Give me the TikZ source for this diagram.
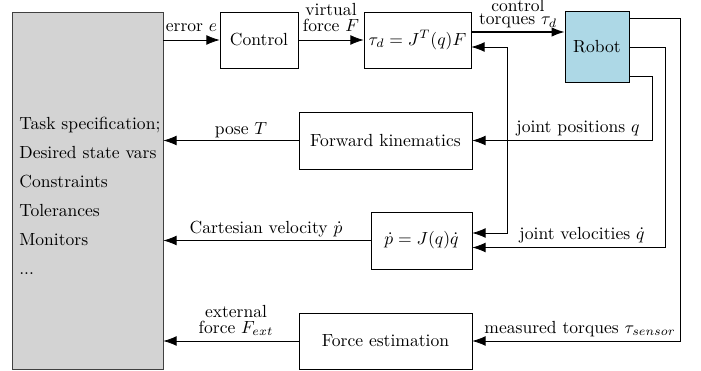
\documentclass[tikz,border=0pt]{standalone}
\usetikzlibrary{arrows.meta,calc}
\definecolor{taskgray}{RGB}{211,211,211}
\definecolor{robotblue}{RGB}{173,216,230}
\begin{document}
\begin{tikzpicture}[x=0.57pt,y=-0.57pt,
  box/.style={draw,rectangle,inner sep=0pt},
  arr/.style={-{Latex[length=7.5pt,width=5.5pt]}},
  lbl/.style={inner sep=0pt,anchor=base},
  tasktext/.style={inner sep=0pt,anchor=base west}]
\useasboundingbox (0,0) rectangle (701,371);
% boxes
\node[box,fill=taskgray,draw=black!75,minimum width=151*0.57pt,minimum height=357*0.57pt] (task) at (87.5,190.5) {};
\node[box,minimum width=78*0.57pt,minimum height=56*0.57pt] (control) at (259,40) {Control};
\node[box,minimum width=107*0.57pt,minimum height=56*0.57pt] (tau) at (417.5,40) {$\tau_d = J^T(q)F$};
\node[box,fill=robotblue,minimum width=64*0.57pt,minimum height=71*0.57pt] (robot) at (597,47) {Robot};
\node[box,minimum width=173*0.57pt,minimum height=57*0.57pt] (fk) at (385.5,140.5) {Forward kinematics};
\node[box,minimum width=101*0.57pt,minimum height=57*0.57pt] (pdot) at (421.5,240.5) {$\dot p = J(q)\dot q$};
\node[box,minimum width=173*0.57pt,minimum height=56*0.57pt] (force) at (385.5,341) {Force estimation};
% task text
\node[tasktext] (t1) at (19,130) {Task specification;};
\node[tasktext] (t2) at (19,159) {Desired state vars};
\node[tasktext] (t3) at (19,188) {Constraints};
\node[tasktext] (t4) at (19,217) {Tolerances};
\node[tasktext] (t5) at (19,246) {Monitors};
\node[tasktext] (t6) at (19,275) {...};
% bend coordinates
\coordinate (mx) at (680,18);
\coordinate (vx) at (665,47);
\coordinate (qx) at (652,76);
\coordinate (jx) at (507,140.5);
\coordinate (ty) at (0,47);
\coordinate (tq) at (0,32);
\coordinate (pa) at (0,233);
\coordinate (pb) at (0,247.5);
% forward connectors
\draw[arr] (task.east |- control.west) -- (control.west);
\draw[arr] (control.east) -- (tau.west);
\draw[arr,thick] (tau.east |- tq) -- (robot.west |- tq);
% feedback from robot
\draw[arr] (robot.east |- mx) -- (mx) |- (force.east);
\draw[arr] (robot.east) -- (vx) |- (pdot.east |- pb);
\draw[arr] (robot.east |- qx) -- (qx) |- (fk.east);
\draw[arr] (jx) |- (tau.east |- ty);
\draw[arr] (jx) |- (pdot.east |- pa);
% back to task
\draw[arr] (fk.west) -- (task.east |- fk.west);
\draw[arr] (pdot.west) -- (task.east |- pdot.west);
\draw[arr] (force.west) -- (task.east |- force.west);
% labels
\node[lbl] (le) at (191.5,32) {error $e$};
\node[lbl] (lf1) at (331,16) {virtual};
\node[lbl] (lf2) at (331,32) {force $F$};
\node[lbl] (lc1) at (518,11.5) {control};
\node[lbl] (lc2) at (518,25) {torques $\tau_d$};
\node[lbl] (lp) at (241,135) {pose $T$};
\node[lbl] (lv) at (266,234) {Cartesian velocity $\dot p$};
\node[lbl] (lx1) at (236,318) {external};
\node[lbl] (lx2) at (236,333) {force $F_{ext}$};
\node[lbl] (ljq) at (578,133) {joint positions $q$};
\node[lbl] (ljv) at (582,239) {joint velocities $\dot q$};
\node[lbl] (lm) at (580,333) {measured torques $\tau_{sensor}$};
\end{tikzpicture}
\end{document}
